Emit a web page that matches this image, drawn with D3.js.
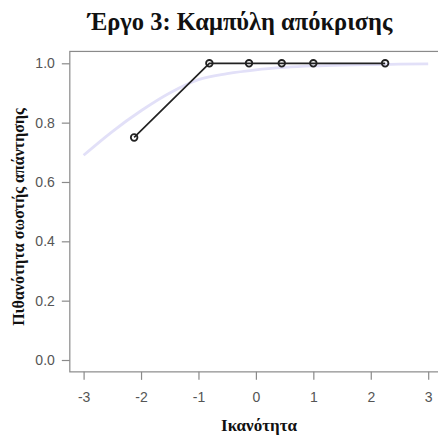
<!DOCTYPE html>
<html>
<head>
<meta charset="utf-8">
<script src="https://cdn.jsdelivr.net/npm/d3@7"></script>
<style>
  html, body { margin: 0; padding: 0; background: #fff; }
  svg { display: block; }
</style>
</head>
<body>
<svg id="chart" width="438" height="437"></svg>
<script>
// Observed item responses (ability vs proportion correct)
const abilityPoints = [-2.12, -0.81, -0.12, 0.45, 1.0, 2.25];
const observedProb = [0.75, 1.0, 1.0, 1.0, 1.0, 1.0];
// Model curve
const curveAbility = [-3, -2.5, -2, -1.5, -1, -0.5, 0, 0.5, 1, 1.5, 2, 2.5, 3];
const curveProb = [0.69, 0.77, 0.84, 0.90, 0.945, 0.965, 0.978, 0.986, 0.991, 0.994, 0.996, 0.997, 0.998];
const xTicks = [-3, -2, -1, 0, 1, 2, 3];
const yTicks = [0, 0.2, 0.4, 0.6, 0.8, 1.0];
const titleText = "Έργο 3: Καμπύλη απόκρισης";
const xLabel = "Ικανότητα";
const yLabel = "Πιθανότητα σωστής απάντησης";

const svg = d3.select("#chart");
const x = d3.scaleLinear().domain([-3, 3]).range([83.6, 428.2]);
const y = d3.scaleLinear().domain([0, 1]).range([360, 63.3]);

const box = { left: x(-3.24), right: x(3.24), top: y(1.04), bottom: y(-0.04) };

// model curve
svg.append("path")
  .datum(curveAbility.map((a, i) => [a, curveProb[i]]))
  .attr("fill", "none")
  .attr("stroke", "#e2e0f8")
  .attr("stroke-width", 2.8)
  .attr("d", d3.line().x(d => x(d[0])).y(d => y(d[1])).curve(d3.curveMonotoneX));

// observed line
const obs = abilityPoints.map((a, i) => [a, observedProb[i]]);
svg.append("path")
  .datum(obs)
  .attr("fill", "none")
  .attr("stroke", "#222")
  .attr("stroke-width", 1.7)
  .attr("d", d3.line().x(d => x(d[0])).y(d => y(d[1])));
svg.selectAll("circle.pt").data(obs).join("circle")
  .attr("class", "pt")
  .attr("cx", d => x(d[0])).attr("cy", d => y(d[1]))
  .attr("r", 3.3)
  .attr("fill", "none").attr("stroke", "#222").attr("stroke-width", 1.8);

// box
svg.append("rect")
  .attr("x", box.left).attr("y", box.top)
  .attr("width", box.right - box.left).attr("height", box.bottom - box.top)
  .attr("fill", "none").attr("stroke", "#8a8a8a").attr("stroke-width", 1.2);

const fmtX = d => String(d);
// x axis
const xAxis = d3.axisBottom(x).tickValues(xTicks).tickSize(8).tickPadding(12).tickFormat(fmtX);
const gx = svg.append("g").attr("transform", `translate(0,${box.bottom})`).call(xAxis);
gx.select(".domain").remove();
gx.selectAll("line").attr("stroke", "#8a8a8a").attr("stroke-width", 1.2);
gx.selectAll("text").attr("fill", "#555").attr("font-family", "Liberation Sans, Arial, sans-serif").attr("font-size", 14);

// y axis
const yAxis = d3.axisLeft(y).tickValues(yTicks).tickSize(8).tickPadding(7).tickFormat(d => d.toFixed(1));
const gy = svg.append("g").attr("transform", `translate(${box.left},0)`).call(yAxis);
gy.select(".domain").remove();
gy.selectAll("line").attr("stroke", "#8a8a8a").attr("stroke-width", 1.2);
gy.selectAll("text").attr("fill", "#555").attr("font-family", "Liberation Sans, Arial, sans-serif").attr("font-size", 14);

// title
svg.append("text")
  .attr("x", 240).attr("y", 30)
  .attr("text-anchor", "middle")
  .attr("font-family", "Liberation Serif, Times New Roman, serif")
  .attr("font-weight", "bold").attr("font-size", 24.5)
  .attr("fill", "#111")
  .text(titleText);

svg.append("text")
  .attr("x", 259).attr("y", 431)
  .attr("text-anchor", "middle")
  .attr("font-family", "Liberation Serif, Times New Roman, serif")
  .attr("font-weight", "bold").attr("font-size", 17)
  .attr("fill", "#111")
  .text(xLabel);

svg.append("text")
  .attr("transform", `translate(24,217) rotate(-90)`)
  .attr("text-anchor", "middle")
  .attr("font-family", "Liberation Serif, Times New Roman, serif")
  .attr("font-weight", "bold").attr("font-size", 16)
  .attr("fill", "#111")
  .text(yLabel);
</script>
</body>
</html>
